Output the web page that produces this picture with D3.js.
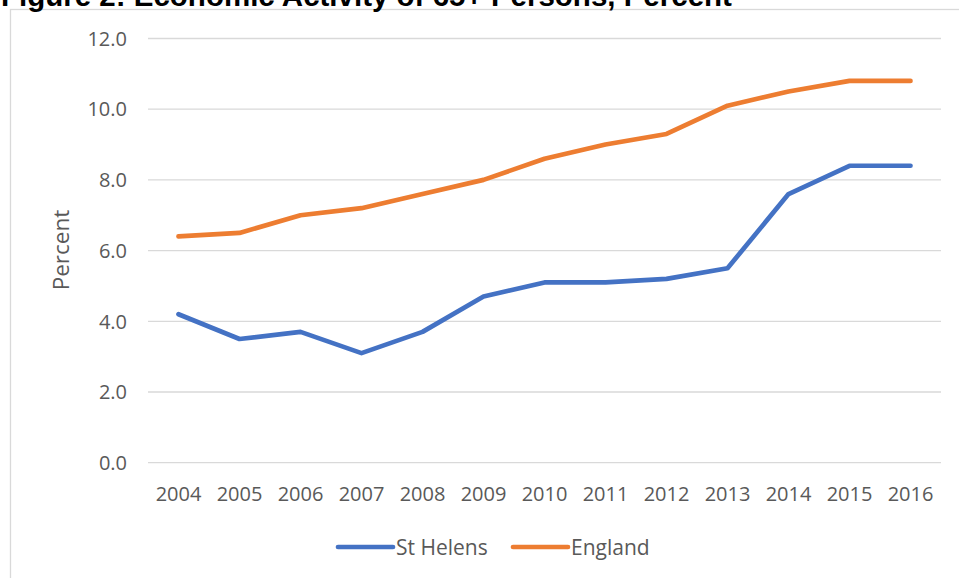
<!DOCTYPE html>
<html>
<head>
<meta charset="utf-8">
<script src="https://cdn.jsdelivr.net/npm/d3@7"></script>
<style>
  body { margin: 0; background: #fff; }
  svg { display: block; }
</style>
</head>
<body>
<svg width="959" height="578"></svg>
<script>
let years = ["2004", "2005", "2006", "2007", "2008", "2009", "2010", "2011", "2012", "2013", "2014", "2015", "2016"];
let stHelens = [4.2, 3.5, 3.7, 3.1, 3.7, 4.7, 5.1, 5.1, 5.2, 5.5, 7.6, 8.4, 8.4];
let england = [6.4, 6.5, 7.0, 7.2, 7.6, 8.0, 8.6, 9.0, 9.3, 10.1, 10.5, 10.8, 10.8];
let seriesNames = ["St Helens", "England"];
let yTicks = [0, 2, 4, 6, 8, 10, 12];

let colors = ["#4472C4", "#ED7D31"];
let font = "'Open Sans', sans-serif";

let svg = d3.select("svg"),
    width = +svg.attr("width"),
    height = +svg.attr("height");

// chart frame (runs off the picture on the right and bottom)
svg.append("rect")
  .attr("x", 10.5).attr("y", 9.5)
  .attr("width", 1000).attr("height", 1000)
  .attr("fill", "none")
  .attr("stroke", "#d9d9d9")
  .attr("stroke-width", 1.3);

// title, cut off by the top edge as in the source
svg.append("text")
  .attr("x", 1).attr("y", 6)
  .style("font-family", "'Liberation Sans', Arial, sans-serif")
  .style("font-weight", "bold")
  .style("font-size", "29.5px")
  .attr("fill", "#000")
  .text("Figure 2: Economic Activity of 65+ Persons, Percent");

let plot = { left: 148, right: 941, top: 38.5, bottom: 462.7 };

let x = d3.scaleBand().domain(years).range([plot.left, plot.right]);
let y = d3.scaleLinear().domain([0, 12]).range([plot.bottom, plot.top]);

// gridlines
svg.append("g")
  .selectAll("line")
  .data(yTicks)
  .enter().append("line")
  .attr("x1", plot.left).attr("x2", plot.right)
  .attr("y1", d => y(d)).attr("y2", d => y(d))
  .attr("stroke", "#d9d9d9")
  .attr("stroke-width", 1.3);

// y tick labels
svg.append("g")
  .selectAll("text")
  .data(yTicks)
  .enter().append("text")
  .attr("x", 127)
  .attr("y", d => y(d))
  .attr("dy", "0.36em")
  .attr("text-anchor", "end")
  .style("font-family", font)
  .style("font-size", "20px")
  .attr("fill", "#595959")
  .text(d => d3.format(".1f")(d));

// x tick labels
svg.append("g")
  .selectAll("text")
  .data(years)
  .enter().append("text")
  .attr("x", d => x(d) + x.bandwidth() / 2)
  .attr("y", 501)
  .attr("text-anchor", "middle")
  .style("font-family", font)
  .style("font-size", "20px")
  .attr("fill", "#595959")
  .text(d => d);

// y axis title
svg.append("text")
  .attr("transform", "translate(69,250) rotate(-90)")
  .attr("text-anchor", "middle")
  .style("font-family", font)
  .style("font-size", "22.5px")
  .attr("fill", "#595959")
  .text("Percent");

// lines
let line = d3.line()
  .x((d, i) => x(years[i]) + x.bandwidth() / 2)
  .y(d => y(d));

[stHelens, england].forEach((vals, k) => {
  svg.append("path")
    .datum(vals)
    .attr("d", line)
    .attr("fill", "none")
    .attr("stroke", colors[k])
    .attr("stroke-width", 4.7)
    .attr("stroke-linecap", "round")
    .attr("stroke-linejoin", "round");
});

// legend
let legendX = [338, 513];
let legend = svg.append("g")
  .selectAll("g")
  .data(seriesNames)
  .enter().append("g")
  .attr("transform", (d, i) => `translate(${legendX[i]},547)`);

legend.append("line")
  .attr("x1", 0).attr("x2", 55)
  .attr("stroke", (d, i) => colors[i])
  .attr("stroke-width", 4.7)
  .attr("stroke-linecap", "round");

legend.append("text")
  .attr("x", 58)
  .attr("dy", "0.36em")
  .style("font-family", font)
  .style("font-size", "21px")
  .attr("fill", "#595959")
  .text(d => d);
</script>
</body>
</html>
